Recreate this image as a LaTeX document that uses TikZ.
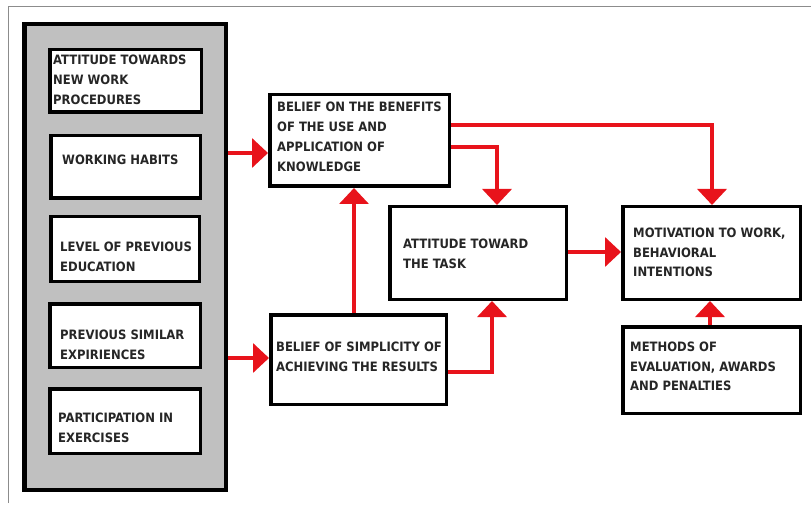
\documentclass[tikz,border=0pt]{standalone}
\usepackage{fontspec}
\newfontfamily\diagfont{DejaVu Sans Condensed}
\usetikzlibrary{arrows.meta}
\definecolor{arrred}{HTML}{E8131B}
\definecolor{panelgray}{HTML}{C0C0C0}
\definecolor{framegray}{HTML}{8C8C8C}
\begin{document}
\begin{tikzpicture}[x=1pt,y=-1pt,
  box/.style={draw=black, line width=3.5pt, fill=white, inner sep=0pt},
  panelbox/.style={draw=black, line width=4.5pt, fill=panelgray, inner sep=0pt},
  txt/.style={font=\diagfont\bfseries\fontsize{12.9}{19.8}\selectfont, align=left, anchor=west, inner sep=0pt, text=black!85},
  arr/.style={draw=arrred, line width=3.5pt, -{Triangle[width=29pt,length=16pt]}}]
\useasboundingbox (0,0) rectangle (811,505);
\fill[white] (0,0) rectangle (811,505);
% outer thin frame
\coordinate (fl) at (8.5,503);
\coordinate (fc) at (8.5,7);
\coordinate (fr) at (811,7);
\draw[framegray, line width=1pt] (fl) -- (fc) -- (fr);
% left panel
\node[panelbox, minimum width=201.5pt, minimum height=465.5pt] (panel) at (125,257) {};
\node[box, minimum width=151.5pt, minimum height=62.5pt] (b1) at (125.5,81) {};
\node[box, minimum width=149.5pt, minimum height=62.5pt] (b2) at (125.5,167) {};
\node[box, minimum width=148.5pt, minimum height=64.5pt] (b3) at (125,249) {};
\node[box, minimum width=150.5pt, minimum height=63.5pt] (b4) at (125,335.5) {};
\node[box, minimum width=150.5pt, minimum height=64.5pt] (b5) at (125,421) {};
\node[txt] (t1) at (53,80) {ATTITUDE TOWARDS\\NEW WORK\\PROCEDURES};
\node[txt] (t2) at (62,160) {WORKING HABITS};
\node[txt] (t3) at (60,257) {LEVEL OF PREVIOUS\\EDUCATION};
\node[txt] (t4) at (60,345) {PREVIOUS SIMILAR\\EXPIRIENCES};
\node[txt] (t5) at (58,428) {PARTICIPATION IN\\EXERCISES};
% right boxes
\node[box, minimum width=179.5pt, minimum height=91.5pt] (benefits) at (359.5,140.5) {};
\node[box, minimum width=176.5pt, minimum height=92.5pt] (attitude) at (478,253) {};
\node[box, minimum width=177.5pt, minimum height=92.5pt] (motivation) at (711.5,253) {};
\node[box, minimum width=177.5pt, minimum height=86.5pt] (methods) at (711.5,370) {};
\node[box, minimum width=175.5pt, minimum height=89.5pt] (simplicity) at (358.5,359.5) {};
\node[txt] (tb) at (277,137) {BELIEF ON THE BENEFITS\\OF THE USE AND\\APPLICATION OF\\KNOWLEDGE};
\node[txt] (ta) at (403,254) {ATTITUDE TOWARD\\THE TASK};
\node[txt] (tm) at (633,252.5) {MOTIVATION TO WORK,\\BEHAVIORAL\\INTENTIONS};
\node[txt] (tme) at (630,366.5) {METHODS OF\\EVALUATION, AWARDS\\AND PENALTIES};
\node[txt] (ts) at (276,357) {BELIEF OF SIMPLICITY OF\\ACHIEVING THE RESULTS};
% arrows
\draw[arr] (panel.east |- 0,153) -- (benefits.west |- 0,153);
\draw[arr] (panel.east |- 0,358) -- (simplicity.west |- 0,358);
\draw[arr] (simplicity.north -| 354,0) -- (benefits.south -| 354,0);
\draw[arr] (benefits.east |- 0,147) -| (attitude.north -| 497,0);
\draw[arr] (benefits.east |- 0,125) -| (motivation.north -| 712,0);
\draw[arr] (attitude.east |- 0,252) -- (motivation.west |- 0,252);
\draw[arr] (simplicity.east |- 0,372) -| (attitude.south -| 492,0);
\draw[arr] (methods.north -| 710,0) -- (motivation.south -| 710,0);
\end{tikzpicture}
\end{document}
